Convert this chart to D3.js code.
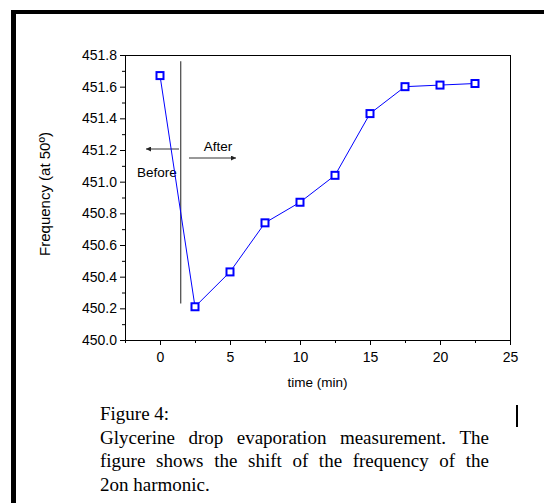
<!DOCTYPE html>
<html><head><meta charset="utf-8">
<script src="https://cdn.jsdelivr.net/npm/d3@7"></script>
<style>body{margin:0;background:#fff;} svg{display:block;}</style>
</head><body>
<script>
const times = [0, 2.5, 5, 7.5, 10, 12.5, 15, 17.5, 20, 22.5];
const freqs = [451.67, 450.21, 450.43, 450.74, 450.87, 451.04, 451.43, 451.60, 451.61, 451.62];
const xTicks = [0, 5, 10, 15, 20, 25];
const xMinor = [-2.5, 2.5, 7.5, 12.5, 17.5, 22.5];
const yTicks = [450.0, 450.2, 450.4, 450.6, 450.8, 451.0, 451.2, 451.4, 451.6, 451.8];
const yMinor = [450.1, 450.3, 450.5, 450.7, 450.9, 451.1, 451.3, 451.5, 451.7];
const markerLine = {t: 1.48, y0: 451.76, y1: 450.23};
const xLabel = "time (min)";
const yLabel = "Frequency (at 50º)";
const captionTitle = "Figure 4:";
const captionLines = [
  "Glycerine drop evaporation measurement. The",
  "figure shows the shift of the frequency of the",
  "2on harmonic."
];

const W = 544, H = 503;
const svg = d3.select("body").append("svg").attr("width", W).attr("height", H);

// outer frame
svg.append("rect").attr("x", 11).attr("y", 10).attr("width", 5).attr("height", H - 10).attr("fill", "#000");
svg.append("rect").attr("x", 11).attr("y", 10).attr("width", W - 11).attr("height", 4).attr("fill", "#000");

const L = 125, R = 510, T = 55, B = 340;
const x = d3.scaleLinear().domain([-2.5, 25]).range([L, R]);
const y = d3.scaleLinear().domain([450.0, 451.8]).range([B, T]);

// plot frame
svg.append("rect").attr("x", L).attr("y", T).attr("width", R - L).attr("height", B - T)
  .attr("fill", "none").attr("stroke", "#000").attr("stroke-width", 1).attr("shape-rendering", "crispEdges");

const font = "Arial, 'Liberation Sans', sans-serif";
const tickFs = 14;

// x axis
const xAxis = d3.axisBottom(x).tickValues(xTicks).tickSize(5).tickPadding(7).tickFormat(d3.format("d"));
const gx = svg.append("g").attr("transform", `translate(0,${B})`).call(xAxis);
gx.select(".domain").remove();
gx.selectAll("text").attr("font-family", font).attr("font-size", tickFs).attr("fill", "#000");
const xAxisMinor = d3.axisBottom(x).tickValues(xMinor).tickSize(3).tickFormat("");
const gxm = svg.append("g").attr("transform", `translate(0,${B})`).call(xAxisMinor);
gxm.select(".domain").remove();

// y axis
const yAxis = d3.axisLeft(y).tickValues(yTicks).tickSize(5).tickPadding(3).tickFormat(d3.format(".1f"));
const gy = svg.append("g").attr("transform", `translate(${L},0)`).call(yAxis);
gy.select(".domain").remove();
gy.selectAll("text").attr("font-family", font).attr("font-size", tickFs).attr("fill", "#000");
const yAxisMinor = d3.axisLeft(y).tickValues(yMinor).tickSize(3).tickFormat("");
const gym = svg.append("g").attr("transform", `translate(${L},0)`).call(yAxisMinor);
gym.select(".domain").remove();

// axis labels
svg.append("text").attr("x", (L + R) / 2).attr("y", 387).attr("text-anchor", "middle")
  .attr("font-family", font).attr("font-size", 13.5).text(xLabel);
svg.append("text").attr("transform", `translate(50,194) rotate(-90)`).attr("text-anchor", "middle")
  .attr("font-family", font).attr("font-size", 15).text(yLabel);

// vertical separator line
svg.append("line").attr("x1", x(markerLine.t)).attr("x2", x(markerLine.t))
  .attr("y1", y(markerLine.y0)).attr("y2", y(markerLine.y1))
  .attr("stroke", "#444").attr("stroke-width", 1.2);

// arrows
const defs = svg.append("defs");
defs.append("marker").attr("id", "ah").attr("viewBox", "0 0 10 10").attr("refX", 10).attr("refY", 5)
  .attr("markerWidth", 7).attr("markerHeight", 5).attr("markerUnits", "userSpaceOnUse").attr("orient", "auto")
  .append("path").attr("d", "M0,0 L10,5 L0,10 z").attr("fill", "#222");
svg.append("line").attr("x1", 179).attr("y1", 149).attr("x2", 146).attr("y2", 149)
  .attr("stroke", "#333").attr("stroke-width", 1).attr("marker-end", "url(#ah)");
svg.append("line").attr("x1", 189).attr("y1", 158).attr("x2", 236).attr("y2", 158)
  .attr("stroke", "#333").attr("stroke-width", 1).attr("marker-end", "url(#ah)");
svg.append("text").attr("x", 218).attr("y", 151).attr("text-anchor", "middle")
  .attr("font-family", font).attr("font-size", 13.5).text("After");
svg.append("text").attr("x", 137).attr("y", 177)
  .attr("font-family", font).attr("font-size", 13.5).text("Before");

// data line + markers
const line = d3.line().x((d, i) => x(times[i])).y(d => y(d));
svg.append("path").datum(freqs).attr("d", line).attr("fill", "none").attr("stroke", "#0000ff").attr("stroke-width", 1);
svg.selectAll("rect.pt").data(freqs).enter().append("rect").attr("class", "pt")
  .attr("x", (d, i) => x(times[i]) - 3.5).attr("y", d => y(d) - 3.5)
  .attr("width", 7).attr("height", 7).attr("fill", "#fff").attr("stroke", "#0000ff").attr("stroke-width", 2);

// caption
const serif = "'Liberation Serif', 'Times New Roman', serif";
const capX = 100, capR = 489, capSize = 19;
svg.append("text").attr("x", capX).attr("y", 420).attr("font-family", serif).attr("font-size", capSize).text(captionTitle);
captionLines.forEach((ln, li) => {
  const yy = 443.5 + li * 23.5;
  const words = ln.split(" ");
  const justify = li < captionLines.length - 1;
  if (!justify) {
    svg.append("text").attr("x", capX).attr("y", yy).attr("font-family", serif).attr("font-size", capSize).text(ln);
    return;
  }
  const g = svg.append("g");
  const nodes = words.map(w => g.append("text").attr("y", yy).attr("font-family", serif).attr("font-size", capSize).text(w));
  const widths = nodes.map(n => n.node().getComputedTextLength());
  const total = d3.sum(widths);
  const gap = (capR - capX - total) / (words.length - 1);
  let cx = capX;
  nodes.forEach((n, i) => { n.attr("x", cx); cx += widths[i] + gap; });
});
// cursor bar
svg.append("rect").attr("x", 516).attr("y", 405).attr("width", 2).attr("height", 22).attr("fill", "#000");
</script>
</body></html>
